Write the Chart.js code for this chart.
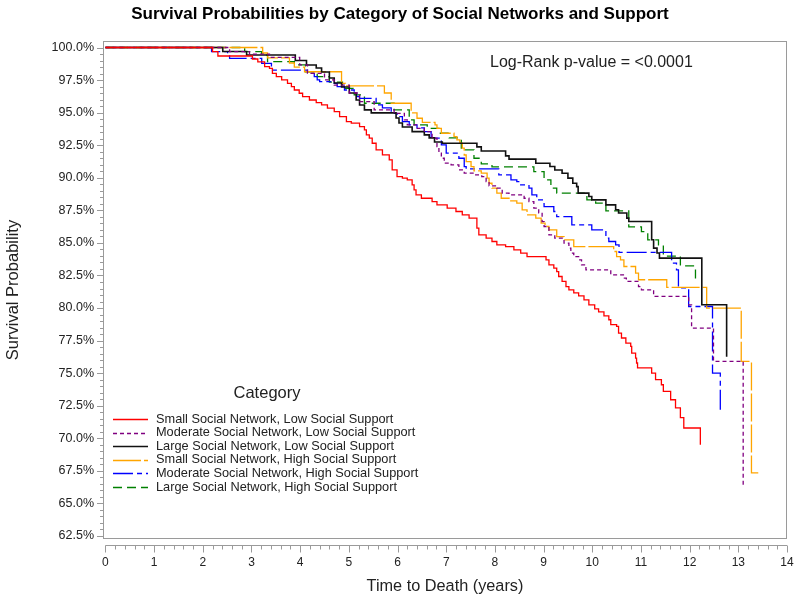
<!DOCTYPE html>
<html>
<head>
<meta charset="utf-8">
<title>Survival Probabilities by Category of Social Networks and Support</title>
<script src="https://cdn.jsdelivr.net/npm/chart.js@4.4.7/dist/chart.umd.min.js"></script>
<style>
  html, body { margin: 0; padding: 0; background: #fff; }
  #wrap { width: 800px; height: 605px; }
</style>
</head>
<body>
<div id="wrap"><canvas id="km"></canvas></div>
<script>
// Kaplan-Meier step values (time in years, survival in %)
const categories = [
  "Small Social Network, Low Social Support",
  "Moderate Social Network, Low Social Support",
  "Large Social Network, Low Social Support",
  "Small Social Network, High Social Support",
  "Moderate Social Network, High Social Support",
  "Large Social Network, High Social Support",
];

const smallLowTime = [0, 2.20, 2.31, 3.02, 3.13, 3.27, 3.37, 3.43, 3.51, 3.62, 3.74, 3.82, 3.88, 3.98, 4.05, 4.19, 4.33, 4.44, 4.56, 4.70, 4.81, 4.95, 5.05, 5.22, 5.32, 5.36, 5.42, 5.48, 5.56, 5.69, 5.83, 5.89, 5.99, 6.10, 6.20, 6.30, 6.34, 6.38, 6.49, 6.71, 6.81, 7.02, 7.20, 7.33, 7.47, 7.63, 7.67, 7.82, 7.94, 8.04, 8.22, 8.39, 8.53, 8.66, 9.05, 9.11, 9.21, 9.27, 9.31, 9.38, 9.46, 9.52, 9.62, 9.72, 9.83, 9.93, 10.05, 10.13, 10.24, 10.34, 10.38, 10.50, 10.54, 10.60, 10.69, 10.79, 10.81, 10.89, 10.91, 10.93, 11.22, 11.30, 11.42, 11.46, 11.61, 11.71, 11.81, 11.88, 12.22];
const smallLowSurv = [100, 99.69, 99.35, 99.12, 98.89, 98.53, 98.40, 98.02, 97.76, 97.51, 97.25, 96.99, 96.74, 96.49, 96.23, 95.97, 95.77, 95.59, 95.34, 95.08, 94.69, 94.31, 94.19, 93.93, 93.68, 93.29, 93.04, 92.65, 92.14, 91.76, 91.37, 90.60, 90.09, 89.97, 89.84, 89.45, 89.07, 88.69, 88.43, 88.17, 87.92, 87.67, 87.41, 87.15, 86.90, 86.13, 85.62, 85.37, 85.11, 84.85, 84.72, 84.47, 84.22, 83.95, 83.70, 83.32, 83.06, 82.80, 82.42, 82.04, 81.65, 81.40, 81.17, 80.94, 80.63, 80.25, 79.94, 79.71, 79.40, 79.10, 78.72, 78.59, 78.08, 77.70, 77.31, 77.05, 76.54, 76.16, 75.78, 75.40, 75.01, 74.50, 74.11, 73.60, 72.96, 72.33, 71.58, 70.79, 69.51];

const moderateLowTime = [0, 2.55, 2.96, 3.37, 3.99, 4.15, 4.50, 4.70, 5.01, 5.22, 5.52, 5.93, 6.14, 6.20, 6.39, 6.55, 6.71, 6.81, 6.85, 6.90, 6.96, 7.10, 7.26, 7.37, 7.57, 7.73, 7.82, 7.88, 8.04, 8.15, 8.29, 8.60, 8.70, 8.80, 8.90, 8.97, 9.01, 9.11, 9.23, 9.42, 9.52, 9.56, 9.62, 9.72, 9.78, 9.87, 10.38, 10.64, 10.70, 10.95, 11.01, 11.26, 11.98, 12.04, 12.49, 13.10];
const moderateLowSurv = [100, 99.68, 99.50, 99.25, 98.66, 98.02, 97.51, 97.12, 96.51, 95.84, 95.21, 94.95, 94.44, 94.06, 93.80, 93.54, 93.04, 92.39, 91.89, 91.50, 91.12, 90.99, 90.60, 90.35, 90.22, 90.09, 89.71, 89.38, 89.20, 88.82, 88.69, 88.43, 88.17, 87.67, 87.31, 86.64, 86.26, 85.62, 85.37, 84.98, 84.60, 84.22, 83.95, 83.70, 83.32, 82.93, 82.55, 82.29, 82.04, 81.65, 81.40, 80.89, 80.25, 78.46, 75.90, 66.44];

const largeLowTime = [0, 2.41, 2.90, 3.90, 4.13, 4.33, 4.44, 4.60, 4.70, 4.85, 5.01, 5.15, 5.22, 5.32, 5.46, 5.97, 6.03, 6.10, 6.30, 6.55, 6.65, 6.76, 6.92, 7.63, 7.72, 8.22, 8.29, 8.84, 9.13, 9.23, 9.38, 9.50, 9.60, 9.68, 9.71, 9.93, 9.99, 10.28, 10.48, 10.54, 10.71, 10.75, 11.22, 11.26, 11.33, 11.38, 12.25, 12.76];
const largeLowSurv = [100, 99.69, 99.42, 99.00, 98.66, 98.43, 98.12, 97.66, 97.28, 96.97, 96.51, 95.97, 95.59, 95.21, 94.98, 94.59, 94.21, 93.90, 93.54, 93.29, 93.06, 92.75, 92.65, 92.37, 92.06, 91.68, 91.43, 91.12, 90.86, 90.60, 90.35, 89.97, 89.58, 89.32, 88.82, 88.56, 88.30, 87.92, 87.54, 87.30, 86.90, 86.64, 85.24, 84.60, 84.22, 83.83, 80.25, 76.26];

const smallHighTime = [0, 3.23, 3.33, 3.78, 3.88, 4.09, 4.85, 4.93, 5.73, 5.87, 6.28, 6.40, 6.51, 6.77, 6.81, 6.90, 7.16, 7.22, 7.28, 7.33, 7.37, 7.41, 7.51, 7.57, 7.72, 7.84, 7.88, 7.94, 8.04, 8.13, 8.29, 8.45, 8.56, 8.66, 8.84, 8.95, 9.03, 9.11, 9.27, 9.42, 9.62, 10.44, 10.50, 10.58, 10.65, 10.89, 10.95, 11.53, 12.35, 13.06, 13.27, 13.41];
const smallHighSurv = [100, 99.58, 99.20, 98.81, 98.50, 98.14, 97.25, 97.05, 96.51, 95.72, 94.98, 94.57, 94.25, 94.06, 93.80, 93.42, 93.16, 92.91, 92.65, 92.27, 91.75, 91.24, 90.86, 90.53, 90.35, 89.97, 89.58, 89.20, 88.82, 88.43, 88.23, 88.05, 87.54, 87.15, 86.90, 86.52, 86.26, 86.00, 85.49, 85.24, 84.72, 84.34, 83.95, 83.70, 83.19, 82.68, 82.17, 81.59, 80.00, 75.90, 67.34, 67.34];

const moderateHighTime = [0, 2.18, 2.51, 2.55, 3.21, 3.41, 4.15, 4.29, 4.35, 4.40, 4.66, 4.76, 4.91, 5.11, 5.16, 5.22, 5.56, 5.69, 5.87, 5.99, 6.10, 6.24, 6.40, 6.55, 6.69, 6.90, 7.00, 7.26, 7.37, 7.41, 8.08, 8.33, 8.45, 8.53, 8.70, 8.76, 8.86, 9.01, 9.21, 9.27, 9.58, 9.99, 10.28, 10.34, 10.48, 10.55, 11.63, 11.73, 11.77, 11.98, 12.47, 12.63];
const moderateHighSurv = [100, 99.68, 99.42, 99.17, 98.79, 98.27, 98.02, 97.76, 97.51, 97.38, 97.25, 96.99, 96.74, 96.49, 96.23, 96.10, 95.59, 95.36, 94.95, 94.69, 94.31, 94.06, 93.83, 93.54, 93.04, 92.52, 91.89, 91.50, 90.86, 90.68, 90.22, 89.84, 89.71, 89.45, 89.20, 88.69, 88.30, 87.79, 87.41, 87.02, 86.39, 86.00, 85.37, 85.11, 84.85, 84.28, 83.45, 82.93, 81.55, 80.12, 75.01, 72.07];

const largeHighTime = [0, 2.86, 3.21, 3.33, 3.88, 4.11, 4.35, 4.60, 4.87, 5.11, 5.32, 5.93, 6.24, 6.34, 6.61, 6.85, 7.06, 7.31, 7.57, 7.72, 7.94, 8.80, 9.01, 9.15, 9.27, 9.89, 10.07, 10.28, 10.75, 11.01, 11.14, 11.36, 11.46, 11.81, 12.12];
const largeHighSurv = [100, 99.68, 99.42, 98.91, 98.66, 98.14, 97.76, 97.35, 96.87, 96.36, 95.72, 95.21, 94.44, 94.06, 93.80, 93.42, 93.06, 92.14, 91.50, 91.06, 90.83, 90.47, 89.84, 89.20, 88.82, 88.30, 88.05, 87.46, 86.23, 85.87, 85.24, 84.85, 83.99, 83.24, 82.04];

// axis tick labels
const xTicks = [0, 1, 2, 3, 4, 5, 6, 7, 8, 9, 10, 11, 12, 13, 14];
const yTicks = [62.5, 65, 67.5, 70, 72.5, 75, 77.5, 80, 82.5, 85, 87.5, 90, 92.5, 95, 97.5, 100];

const pValueText = "Log-Rank p-value = <0.0001";

// line styles per group, in the same order as categories
const styles = [
  { color: "#ff0000", dash: [], width: 1.3 },
  { color: "#800080", dash: [4, 3], width: 1.3 },
  { color: "#111111", dash: [], width: 1.6 },
  { color: "#ffa500", dash: [28, 3], width: 1.3 },
  { color: "#0000ff", dash: [20, 4, 5, 4], width: 1.3 },
  { color: "#008000", dash: [9, 5], width: 1.3 },
];

const groups = [
  [smallLowTime, smallLowSurv],
  [moderateLowTime, moderateLowSurv],
  [largeLowTime, largeLowSurv],
  [smallHighTime, smallHighSurv],
  [moderateHighTime, moderateHighSurv],
  [largeHighTime, largeHighSurv],
];

const frameColor = "#9a9a9a";
const textColor = "#222222";
const fontFamily = "'Liberation Sans', Arial, sans-serif";

Chart.defaults.font.family = fontFamily;
Chart.defaults.color = textColor;

// frame, offset x axis, minor ticks, inset text and the in-plot legend
const decor = {
  id: "decor",
  beforeDatasetsDraw(chart) {
    const { ctx, chartArea: a, scales } = chart;
    const x = scales.x;
    const y = scales.y;
    ctx.save();
    ctx.strokeStyle = frameColor;
    ctx.lineWidth = 1;
    ctx.strokeRect(a.left + 0.5, a.top + 0.5, a.right - a.left - 1, a.bottom - a.top - 1);

    // x axis drawn a little below the plot frame, like the SAS output
    const axisY = Math.round(a.bottom + 6) + 0.5;
    ctx.beginPath();
    ctx.moveTo(x.getPixelForValue(xTicks[0]), axisY);
    ctx.lineTo(x.getPixelForValue(xTicks[xTicks.length - 1]), axisY);
    for (let k = 0; k <= 70; k++) {
      const px = Math.round(x.getPixelForValue(k / 5)) + 0.5;
      ctx.moveTo(px, axisY);
      ctx.lineTo(px, axisY + (k % 5 === 0 ? 7 : 4));
    }
    // y ticks: majors every 2.5, minors every 0.5
    for (let k = 0; k <= 75; k++) {
      const py = Math.round(y.getPixelForValue(62.5 + k * 0.5)) + 0.5;
      ctx.moveTo(a.left, py);
      ctx.lineTo(a.left - (k % 5 === 0 ? 6 : 3), py);
    }
    ctx.stroke();
    ctx.restore();
  },
  afterDraw(chart) {
    const { ctx, chartArea: a } = chart;
    ctx.save();
    ctx.fillStyle = textColor;
    ctx.textBaseline = "middle";

    ctx.font = "16px " + fontFamily;
    ctx.textAlign = "left";
    ctx.fillText(pValueText, a.left + 387, a.top + 22);

    // legend block in the lower left of the plot
    ctx.font = "16.5px " + fontFamily;
    ctx.textAlign = "center";
    ctx.fillText("Category", a.left + 164, a.top + 352);

    ctx.font = "12.75px " + fontFamily;
    ctx.textAlign = "left";
    categories.forEach(function (label, i) {
      const rowY = a.top + 378 + i * 13.6;
      const st = styles[i];
      ctx.save();
      ctx.strokeStyle = st.color;
      ctx.lineWidth = st.width;
      ctx.setLineDash(st.dash);
      ctx.beginPath();
      ctx.moveTo(a.left + 10, Math.round(rowY) + 0.5);
      ctx.lineTo(a.left + 45, Math.round(rowY) + 0.5);
      ctx.stroke();
      ctx.restore();
      ctx.fillText(label, a.left + 53, rowY);
    });
    ctx.restore();
  },
};

const datasets = groups.map(function (g, i) {
  const times = g[0];
  const surv = g[1];
  return {
    label: categories[i],
    data: times.map((t, j) => ({ x: t, y: surv[j] })),
    borderColor: styles[i].color,
    borderWidth: styles[i].width,
    borderDash: styles[i].dash,
    stepped: "before",
    pointRadius: 0,
    fill: false,
  };
});

new Chart(document.getElementById("km"), {
  type: "line",
  data: { datasets: datasets },
  plugins: [decor],
  options: {
    responsive: true,
    maintainAspectRatio: false,
    animation: false,
    devicePixelRatio: 1,
    layout: { padding: 0 },
    plugins: {
      legend: { display: false },
      tooltip: { enabled: false },
      title: {
        display: true,
        text: "Survival Probabilities by Category of Social Networks and Support",
        color: "#000",
        font: { size: 17, weight: "bold" },
        padding: { top: 4, bottom: 16.6 },
      },
    },
    scales: {
      x: {
        type: "linear",
        min: -0.05,
        max: 14,
        afterBuildTicks: (axis) => { axis.ticks = xTicks.map((v) => ({ value: v })); },
        afterFit: (axis) => {
          // tick padding only pushes labels down; keep a fixed right margin for the plot
          axis.height = 66;
          axis.paddingLeft = 0;
          axis.paddingRight = 13;
        },
        grid: { display: false, drawTicks: false },
        border: { display: false },
        ticks: { padding: 16, font: { size: 12 }, maxRotation: 0, autoSkip: false },
        title: {
          display: true,
          text: "Time to Death (years)",
          font: { size: 16.3 },
          padding: { top: 0, bottom: 9.2 },
        },
      },
      y: {
        type: "linear",
        min: 62.27,
        max: 100.5,
        afterBuildTicks: (axis) => { axis.ticks = yTicks.map((v) => ({ value: v })); },
        afterFit: (axis) => { axis.width = 103; },
        grid: { display: false, drawTicks: false },
        border: { display: false },
        ticks: {
          padding: 9,
          font: { size: 12.5 },
          autoSkip: false,
          callback: (v) => v.toFixed(1) + "%",
        },
        title: {
          display: true,
          text: "Survival Probability",
          font: { size: 16.5 },
          padding: { top: 4, bottom: 0 },
        },
      },
    },
  },
});
</script>
</body>
</html>
